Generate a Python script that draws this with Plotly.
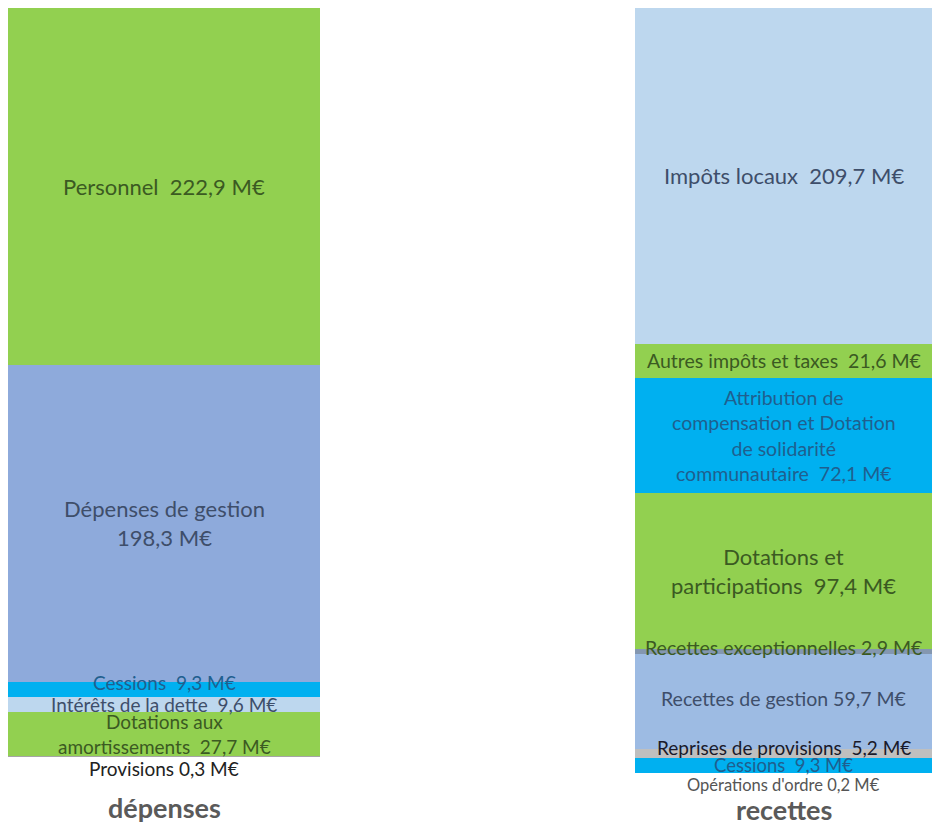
import plotly.graph_objects as go

# ---- data ----
dep_labels = ["Personnel  222,9 M€", "Dépenses de gestion<br>198,3 M€", "Cessions  9,3 M€",
              "Intérêts de la dette  9,6 M€", "Dotations aux<br>amortissements  27,7 M€",
              "Provisions 0,3 M€"]
dep_values = [222.9, 198.3, 9.3, 9.6, 27.7, 0.3]

rec_labels = ["Impôts locaux  209,7 M€", "Autres impôts et taxes  21,6 M€",
              "Attribution de<br>compensation et Dotation<br>de solidarité<br>communautaire  72,1 M€",
              "Dotations et<br>participations  97,4 M€", "Recettes exceptionnelles 2,9 M€",
              "Recettes de gestion 59,7 M€", "Reprises de provisions  5,2 M€",
              "Cessions  9,3 M€", "Opérations d'ordre 0,2 M€"]
rec_values = [209.7, 21.6, 72.1, 97.4, 2.9, 59.7, 5.2, 9.3, 0.2]

group_names = ["dépenses", "recettes"]

# ---- styles ----
GREEN = "#92D050"
dep_colors = [GREEN, "#8EAADB", "#00B0F0", "#BDD7EE", GREEN, "#A5A5A5"]
rec_colors = ["#BDD7EE", GREEN, "#00B0F0", GREEN, "#8497B0", "#9DBBE3", "#BFBFBF", "#00B0F0", "#A5A5A5"]
TG = "#3B5A22"   # text on green
TB = "#3E4E6A"   # text on blue
TC = "#1F5F8F"   # text on cyan
dep_text = [(TG, 22, 0), (TB, 22, 0), (TC, 19, 7), (TB, 19, 0), (TG, 19, 0), ("#222222", 19, -12)]
rec_text = [(TB, 22, 0), (TG, 19.5, 0), (TC, 19.5, 0), (TG, 22, 0), (TG, 19.5, 4), (TB, 19.5, 3),
            ("#1A1A2A", 19, 6), (TC, 18.5, 0), ("#555555", 16.5, -12)]

FONT = "Lato, 'Open Sans', sans-serif"
W, H = 932, 828
TOP = 8
x_pos = [164, 783.5]
x_width = [312, 297]
SCALE = 1.6  # px per M€

fig = go.Figure()
annotations = []
for gi, (labels, values, colors, tstyle) in enumerate(
        [(dep_labels, dep_values, dep_colors, dep_text),
         (rec_labels, rec_values, rec_colors, rec_text)]):
    cum = 0.0
    for lab, v, c, (tc, ts, sh) in zip(labels, values, colors, tstyle):
        fig.add_trace(go.Bar(x=[x_pos[gi]], y=[v], width=[x_width[gi]],
                             marker=dict(color=c, line=dict(width=0)),
                             showlegend=False, hoverinfo="skip"))
        annotations.append(dict(x=x_pos[gi], y=cum + v / 2, xref="x", yref="y",
                                text=lab, showarrow=False, yshift=sh,
                                font=dict(family=FONT, size=ts, color=tc)))
        cum += v

title_y = [807, 809]
for gi, name in enumerate(group_names):
    annotations.append(dict(x=x_pos[gi], y=1 - title_y[gi] / H, xref="x", yref="paper",
                            yanchor="middle", xanchor="center",
                            text="<b>" + name + "</b>", showarrow=False,
                            font=dict(family=FONT, size=27, color="#5A5A5A")))

fig.update_layout(
    barmode="stack",
    width=W, height=H,
    margin=dict(l=0, r=0, t=0, b=0),
    paper_bgcolor="white", plot_bgcolor="white",
    bargap=0,
    hovermode=False,
    xaxis=dict(range=[0, W], visible=False, fixedrange=True),
    yaxis=dict(range=[(H - TOP) / SCALE, -TOP / SCALE], visible=False, fixedrange=True),
    annotations=annotations,
)

fig.write_html("out.html",
               config={"displayModeBar": False, "staticPlot": True},
               post_script="document.body.style.margin='0';document.body.style.overflow='hidden';")
